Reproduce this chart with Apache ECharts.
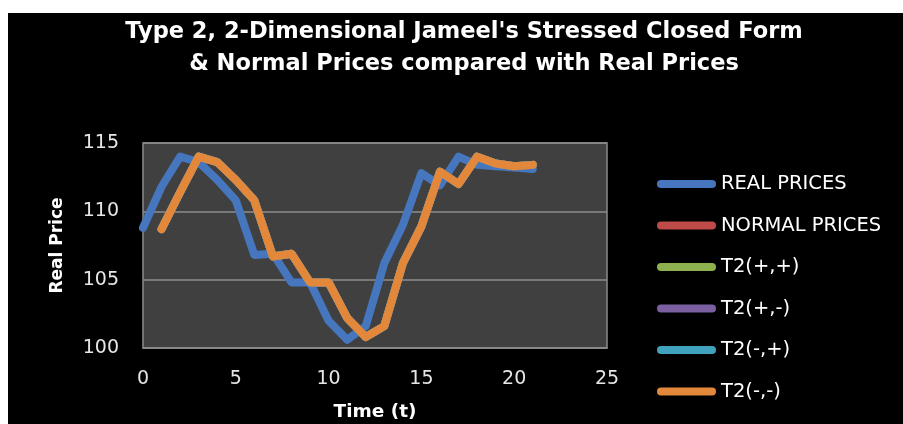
<!DOCTYPE html>
<html>
<head>
<meta charset="utf-8">
<script src="https://cdn.jsdelivr.net/npm/echarts@6/dist/echarts.min.js"></script>
<style>
  html, body { margin: 0; padding: 0; background: #fff; }
  #chart { position: absolute; left: 8px; top: 13px; width: 895px; height: 411px; }
</style>
</head>
<body>
<div id="chart"></div>
<script>
// time steps (t)
const realTimes = [0, 1, 2, 3, 4, 5, 6, 7, 8, 9, 10, 11, 12, 13, 14, 15, 16, 17, 18, 19, 20, 21];
const realPrices = [108.8, 111.8, 114.0, 113.6, 112.3, 110.8, 106.8, 106.9, 104.8, 104.8, 102.0,
    100.6, 101.6, 106.2, 109.0, 112.8, 111.9, 114.0, 113.4, 113.3, 113.2, 113.1];

// the model series start at t = 1 and sit under the T2(-,-) line
const modelTimes = [1, 2, 3, 4, 5, 6, 7, 8, 9, 10, 11, 12, 13, 14, 15, 16, 17, 18, 19, 20, 21];
const normalPrices = [108.7, 111.4, 114.0, 113.6, 112.3, 110.8, 106.7, 106.9, 104.8, 104.8, 102.2,
    100.8, 101.6, 106.2, 108.9, 112.9, 112.0, 114.0, 113.5, 113.3, 113.4];
const t2PlusPlus = [...normalPrices];
const t2PlusMinus = [...normalPrices];
const t2MinusPlus = [...normalPrices];
const t2MinusMinus = [...normalPrices];

const seriesNames = ['REAL PRICES', 'NORMAL PRICES', 'T2(+,+)', 'T2(+,-)', 'T2(-,+)', 'T2(-,-)'];
const seriesColors = ['#4676bd', '#be4b48', '#8db14f', '#7b5fa0', '#41a2bd', '#e3873a'];
const yTicks = [100, 105, 110, 115];
const xTicks = [0, 5, 10, 15, 20, 25];

const zip = (xs, ys) => xs.map((x, i) => [x, ys[i]]);
const seriesData = [
    zip(realTimes, realPrices),
    zip(modelTimes, normalPrices),
    zip(modelTimes, t2PlusPlus),
    zip(modelTimes, t2PlusMinus),
    zip(modelTimes, t2MinusPlus),
    zip(modelTimes, t2MinusMinus),
];

const series = seriesNames.map((name, i) => ({
    name,
    type: 'line',
    data: seriesData[i],
    showSymbol: false,
    symbol: 'none',
    lineStyle: { color: seriesColors[i], width: 8, cap: 'round', join: 'round' },
    itemStyle: { color: seriesColors[i] },
    z: 2 + i,
}));

const font = '"DejaVu Sans", sans-serif';

const options = {
    backgroundColor: '#000',
    animation: false,
    title: {
        text: "Type 2, 2-Dimensional Jameel's Stressed Closed Form\n& Normal Prices compared with Real Prices",
        left: 456,
        top: 3,
        padding: 0,
        textAlign: 'center',
        textStyle: {
            color: '#fff',
            fontFamily: font,
            fontWeight: 'bold',
            fontSize: 22.5,
            lineHeight: 32,
        },
    },
    grid: {
        left: 135,
        right: 296,
        top: 130,
        bottom: 76,
        show: true,
        backgroundColor: '#404040',
        borderColor: '#8a8a8a',
        borderWidth: 1.5,
    },
    legend: {
        orient: 'vertical',
        left: 644,
        top: 156,
        itemWidth: 59,
        itemHeight: 8,
        itemGap: 21.5,
        icon: 'path://M4,0L55,0A4,4,0,0,1,55,8L4,8A4,4,0,0,1,4,0Z',
        data: seriesNames,
        textStyle: { color: '#fff', fontFamily: font, fontSize: 19.5, lineHeight: 20 },
    },
    xAxis: {
        type: 'value',
        min: xTicks[0],
        max: xTicks[xTicks.length - 1],
        interval: 5,
        name: 'Time (t)',
        nameLocation: 'middle',
        nameGap: 55,
        nameTextStyle: { color: '#fff', fontFamily: font, fontWeight: 'bold', fontSize: 18.5 },
        axisLine: { show: true, lineStyle: { color: '#8a8a8a', width: 1.5 } },
        axisTick: { show: false },
        splitLine: { show: false },
        axisLabel: { color: '#e6e6e6', fontFamily: font, fontSize: 19, margin: 22 },
    },
    yAxis: {
        type: 'value',
        min: yTicks[0],
        max: yTicks[yTicks.length - 1],
        interval: 5,
        name: 'Real Price',
        nameLocation: 'middle',
        nameGap: 77,
        nameTextStyle: { color: '#fff', fontFamily: font, fontWeight: 'bold', fontSize: 17 },
        axisLine: { show: false },
        axisTick: { show: false },
        splitLine: { show: true, lineStyle: { color: '#8c8c8c', width: 1.5 } },
        axisLabel: { color: '#e6e6e6', fontFamily: font, fontSize: 19, margin: 24 },
    },
    series,
};

const chart = echarts.init(document.getElementById('chart'));
chart.setOption(options);
</script>
</body>
</html>
